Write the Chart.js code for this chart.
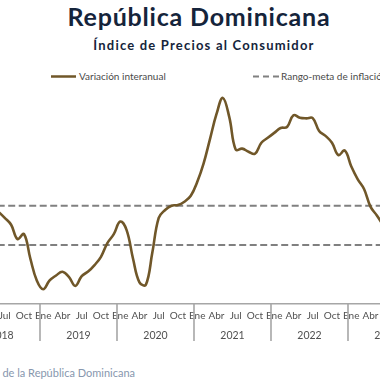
<!DOCTYPE html>
<html>
<head>
<meta charset="utf-8">
<script src="https://cdn.jsdelivr.net/npm/chart.js@4.4.1/dist/chart.umd.min.js"></script>
<style>
  html, body { margin:0; padding:0; width:380px; height:380px; overflow:hidden; background:#fff; position:relative; }
  .t { position:absolute; white-space:nowrap; font-family: Lato, "Open Sans", sans-serif; }
  #title { left:0; width:398px; text-align:center; top:4px; font-size:25px; line-height:25px; font-weight:700; color:#15243b; letter-spacing:0.8px; }
  #subtitle { left:0; width:408px; text-align:center; top:38px; font-size:13px; line-height:14px; font-weight:700; color:#15243b; letter-spacing:1.2px; }
  .leg { top:70px; font-size:10px; line-height:13px; color:#4a4a4a; }
  #source { right:245px; top:366px; font-size:11px; line-height:13px; color:#8797ae; }
  #chartWrap { position:absolute; left:-57px; top:60px; width:502px; height:290px; }
</style>
</head>
<body>
<div id="title" class="t">República Dominicana</div>
<div id="subtitle" class="t">Índice de Precios al Consumidor</div>
<div class="t leg" style="left:51px;"><svg width="26" height="13" style="vertical-align:top"><line x1="0" y1="6.5" x2="25" y2="6.5" stroke="#705729" stroke-width="2.5"/></svg><span style="position:relative;left:2px;">Variación interanual</span></div>
<div class="t leg" style="left:253px;"><svg width="26" height="13" style="vertical-align:top"><line x1="0" y1="6.5" x2="26" y2="6.5" stroke="#808080" stroke-width="2" stroke-dasharray="6,4"/></svg><span style="position:relative;left:2px;">Rango-meta de inflación</span></div>
<div id="source" class="t">Fuente: Banco Central de la República Dominicana</div>
<div id="chartWrap"><canvas id="c" width="502" height="290" style="width:502px;height:290px;"></canvas></div>
<script>
const years = ['2018','2019','2020','2021','2022','2023'];
const months = ['Ene','Feb','Mar','Abr','May','Jun','Jul','Ago','Sep','Oct','Nov','Dic'];
const shownMonths = ['Ene','Abr','Jul','Oct'];
const inflation2018 = [null,null,null,null,null,4.7,4.38,4.03,3.3,3.56,2.3,1.2];
const inflation2019 = [0.75,1.2,1.45,1.64,1.38,0.92,1.42,1.65,1.98,2.4,3.1,3.55];
const inflation2020 = [4.19,3.76,2.3,1.1,0.98,2.6,4.38,4.78,5.0,5.03,5.2,5.5];
const inflation2021 = [6.2,7.15,8.4,9.65,10.48,9.5,7.85,7.9,7.74,7.64,8.2,8.45];
const inflation2022 = [8.7,8.95,9.0,9.6,9.47,9.44,9.45,8.8,8.55,8.2,7.57,7.8];
const inflation2023 = [7.0,6.35,5.85,4.95,4.5,4.0,null,null,null,null,null,null];
const targetUpper = 5;
const targetLower = 3;

const labels = [];
years.forEach(y => months.forEach(m => labels.push(m)));
const inflation = [].concat(inflation2018, inflation2019, inflation2020, inflation2021, inflation2022, inflation2023);
const first = 0, last = labels.length - 1;

const yearSeparators = {
  id: 'yearSeparators',
  afterDraw(chart) {
    const x = chart.scales.x, x2 = chart.scales.x2;
    const ctx = chart.ctx;
    const step = x2.getPixelForValue(1) - x2.getPixelForValue(0);
    ctx.save();
    ctx.strokeStyle = '#a6a6a6';
    ctx.lineWidth = 1.6;
    for (let j = 0; j <= years.length; j++) {
      const px = x2.getPixelForValue(0) + (j - 0.5) * step;
      ctx.beginPath();
      ctx.moveTo(px, x.top);
      ctx.lineTo(px, x2.bottom - 4);
      ctx.stroke();
    }
    ctx.restore();
  }
};

new Chart(document.getElementById('c'), {
  type: 'line',
  data: {
    labels: labels,
    datasets: [
      { label: 'Variación interanual', data: inflation, borderColor: '#705729', borderWidth: 2.6, pointRadius: 0, tension: 0.4, xAxisID: 'x', spanGaps: false },
      { label: 'Rango-meta de inflación', data: [{x: first, y: targetUpper}, {x: last, y: targetUpper}], borderColor: '#808080', borderWidth: 2, borderDash: [7, 3.5], pointRadius: 0, xAxisID: 'x', parsing: false },
      { label: 'Rango-meta inferior', data: [{x: first, y: targetLower}, {x: last, y: targetLower}], borderColor: '#808080', borderWidth: 2, borderDash: [7, 3.5], pointRadius: 0, xAxisID: 'x', parsing: false }
    ]
  },
  options: {
    responsive: false,
    animation: false,
    devicePixelRatio: 1,
    layout: { padding: { left: 20, right: 20, top: 8, bottom: 5 } },
    plugins: { legend: { display: false }, tooltip: { enabled: false } },
    scales: {
      y: { display: false, min: 0, max: 12 },
      x: {
        type: 'category', position: 'bottom', offset: true,
        grid: { display: false, drawTicks: false },
        border: { display: true, color: '#a6a6a6', width: 1.6 },
        ticks: {
          autoSkip: false, maxRotation: 0, minRotation: 0, padding: 6,
          color: '#505050', font: { family: 'Lato', size: 10 },
          callback: function(v, i) { const m = labels[i]; return shownMonths.includes(m) ? m : ''; }
        },
        afterFit: s => { s.height = 19; }
      },
      x2: {
        type: 'category', position: 'bottom', offset: true, labels: years,
        grid: { display: false, drawTicks: false },
        border: { display: false },
        ticks: { autoSkip: false, maxRotation: 0, padding: 6, color: '#505050', font: { family: 'Lato', size: 10.5 } },
        afterFit: s => { s.height = 22; }
      }
    }
  },
  plugins: [yearSeparators]
});
</script>
</body>
</html>
